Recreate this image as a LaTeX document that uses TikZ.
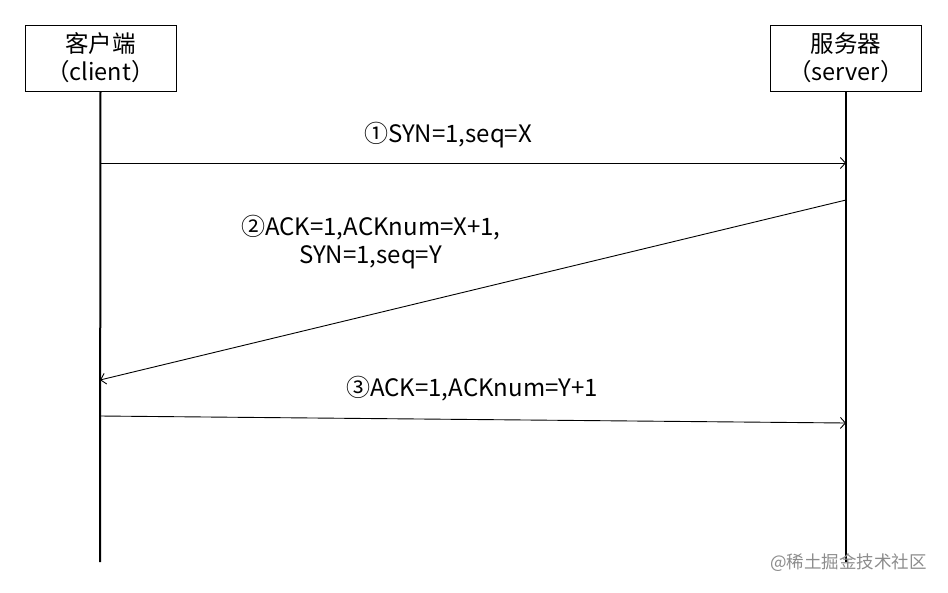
\documentclass[tikz,border=0pt]{standalone}
\usepackage{fontspec}
\setmainfont{Noto Sans CJK SC}
\usetikzlibrary{arrows.meta}
\begin{document}
\begin{tikzpicture}[x=1pt,y=-1pt,
  actor/.style={draw,line width=0.9pt,minimum width=151pt,minimum height=66pt,align=center,font=\fontsize{23.5}{28}\selectfont,inner sep=0pt},
  life/.style={line width=2pt},
  msg/.style={line width=0.9pt,-{Straight Barb[length=5pt,width=11pt]}},
  lbl/.style={font=\fontsize{24}{29}\selectfont,align=left,inner sep=0pt}]
\useasboundingbox (0,0) rectangle (948,592);
\node[actor] (client) at (100.5,58) {客户端\\（client）};
\node[actor] (server) at (846,58) {服务器\\（server）};
\coordinate (cend) at (100,562);
\coordinate (send) at (846,562);
\draw[life] (client.south) -- (cend);
\draw[life] (server.south) -- (send);
\coordinate (a1s) at (100,163);
\coordinate (a1e) at (846,163);
\coordinate (a2s) at (846,200);
\coordinate (a2e) at (100,380);
\coordinate (a3s) at (100,416);
\coordinate (a3e) at (846,423);
\draw[msg] (a1s) -- (a1e);
\draw[msg] (a2s) -- (a2e);
\draw[msg] (a3s) -- (a3e);
\node[lbl,anchor=west] (l1) at (364,135) {①SYN=1,seq=X};
\node[lbl,anchor=west] (l2) at (241,228) {②ACK=1,ACKnum=X+1,};
\node[lbl,anchor=west] (l2b) at (299,257) {SYN=1,seq=Y};
\node[lbl,anchor=west] (l3) at (346,389) {③ACK=1,ACKnum=Y+1};
\node[anchor=west,text=black!45,font=\fontsize{17.5}{20}\selectfont,inner sep=0pt] (wm) at (770,563) {@稀土掘金技术社区};
\end{tikzpicture}
\end{document}
